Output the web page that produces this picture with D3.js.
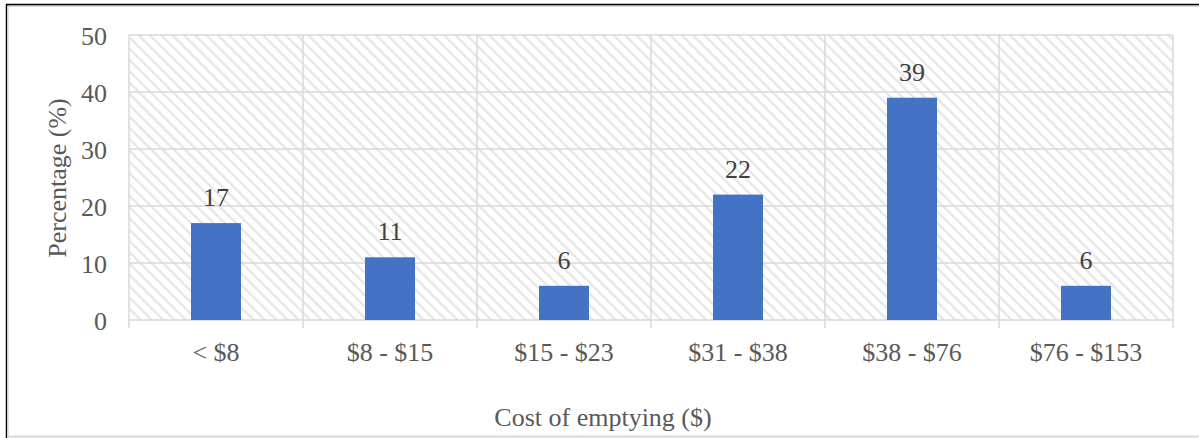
<!DOCTYPE html>
<html>
<head>
<meta charset="utf-8">
<script src="https://cdn.jsdelivr.net/npm/d3@7"></script>
<style>
  html, body { margin: 0; padding: 0; background: #fff; }
  svg { display: block; }
  text { font-family: "Liberation Serif", "Times New Roman", serif; }
</style>
</head>
<body>
<svg id="chart" width="1199" height="438"></svg>
<script>
// Share of households by cost of emptying
const categories = ["< $8", "$8 - $15", "$15 - $23", "$31 - $38", "$38 - $76", "$76 - $153"];
const percentages = [17, 11, 6, 22, 39, 6];
const yTicks = [0, 10, 20, 30, 40, 50];
const xTitle = "Cost of emptying ($)";
const yTitle = "Percentage (%)";

const W = 1199, H = 438;
const plot = { left: 129, right: 1173, top: 35, bottom: 320 };
const FS = 26;

const svg = d3.select("#chart");

// outer frame
svg.append("rect").attr("x", 0).attr("y", 0).attr("width", W).attr("height", H).attr("fill", "#fff");
svg.append("line").attr("x1", 6).attr("x2", W).attr("y1", 6).attr("y2", 6)
  .attr("stroke", "#d9d9d9").attr("stroke-width", 2);
svg.append("line").attr("x1", 6).attr("x2", W).attr("y1", 4.5).attr("y2", 4.5)
  .attr("stroke", "#000").attr("stroke-width", 1.5);
svg.append("line").attr("x1", 6.5).attr("x2", 6.5).attr("y1", 4).attr("y2", H)
  .attr("stroke", "#000").attr("stroke-width", 1.5);
svg.append("line").attr("x1", 8).attr("x2", 8).attr("y1", 6).attr("y2", H)
  .attr("stroke", "#d9d9d9").attr("stroke-width", 1.5);
svg.append("line").attr("x1", 7).attr("x2", W).attr("y1", 436.5).attr("y2", 436.5)
  .attr("stroke", "#d9d9d9").attr("stroke-width", 2);

// diagonal hatch for the plot area
const defs = svg.append("defs");
const pat = defs.append("pattern")
  .attr("id", "hatch").attr("patternUnits", "userSpaceOnUse")
  .attr("width", 8).attr("height", 8)
  .attr("patternTransform", "rotate(-45)");
pat.append("rect").attr("width", 8).attr("height", 8).attr("fill", "#fff");
pat.append("line").attr("x1", 0).attr("y1", 0).attr("x2", 0).attr("y2", 8)
  .attr("stroke", "#e6e6e6").attr("stroke-width", 4.5);

const x = d3.scaleBand().domain(categories).range([plot.left, plot.right]).paddingInner(0).paddingOuter(0);
const y = d3.scaleLinear().domain([0, 50]).range([plot.bottom, plot.top]);

svg.append("rect")
  .attr("x", plot.left).attr("y", plot.top)
  .attr("width", plot.right - plot.left).attr("height", plot.bottom - plot.top)
  .attr("fill", "url(#hatch)");

// horizontal gridlines
svg.append("g").selectAll("line").data(yTicks).join("line")
  .attr("x1", plot.left).attr("x2", plot.right)
  .attr("y1", d => y(d)).attr("y2", d => y(d))
  .attr("stroke", "#d9d9d9").attr("stroke-width", 1.5);

// vertical category separators with tick marks below the axis
const seps = categories.map(c => x(c)).concat([plot.right]);
svg.append("g").selectAll("line").data(seps).join("line")
  .attr("x1", d => d).attr("x2", d => d)
  .attr("y1", plot.top).attr("y2", plot.bottom + 8)
  .attr("stroke", "#d9d9d9").attr("stroke-width", 1.5);

// bars
const barW = 50;
svg.append("g").selectAll("rect").data(percentages).join("rect")
  .attr("x", (d, i) => x(categories[i]) + x.bandwidth() / 2 - barW / 2)
  .attr("y", d => y(d))
  .attr("width", barW)
  .attr("height", d => y(0) - y(d))
  .attr("fill", "#4472c4");

// value labels
svg.append("g").selectAll("text").data(percentages).join("text")
  .attr("x", (d, i) => x(categories[i]) + x.bandwidth() / 2)
  .attr("y", d => y(d) - 17)
  .attr("text-anchor", "middle")
  .attr("font-size", FS).attr("fill", "#404040")
  .text(d => d);

// y axis labels
const yAxis = d3.axisLeft(y).tickValues(yTicks).tickSize(0).tickPadding(0);
const gy = svg.append("g").attr("transform", `translate(${107},0)`).call(yAxis);
gy.select(".domain").remove();
gy.selectAll("text")
  .attr("font-family", "Liberation Serif, Times New Roman, serif")
  .attr("font-size", FS).attr("fill", "#595959").attr("dy", "0.35em");

// x axis labels
const xAxis = d3.axisBottom(x).tickSize(0).tickPadding(0);
const gx = svg.append("g").attr("transform", `translate(0,${361})`).call(xAxis);
gx.select(".domain").remove();
gx.selectAll("text")
  .attr("font-family", "Liberation Serif, Times New Roman, serif")
  .attr("font-size", FS).attr("fill", "#595959").attr("dy", "0");

// axis titles
svg.append("text")
  .attr("x", 603).attr("y", 426)
  .attr("text-anchor", "middle").attr("font-size", FS).attr("fill", "#595959")
  .text(xTitle);
svg.append("text")
  .attr("transform", `translate(66,${178}) rotate(-90)`)
  .attr("text-anchor", "middle").attr("font-size", FS).attr("fill", "#595959")
  .text(yTitle);
</script>
</body>
</html>
